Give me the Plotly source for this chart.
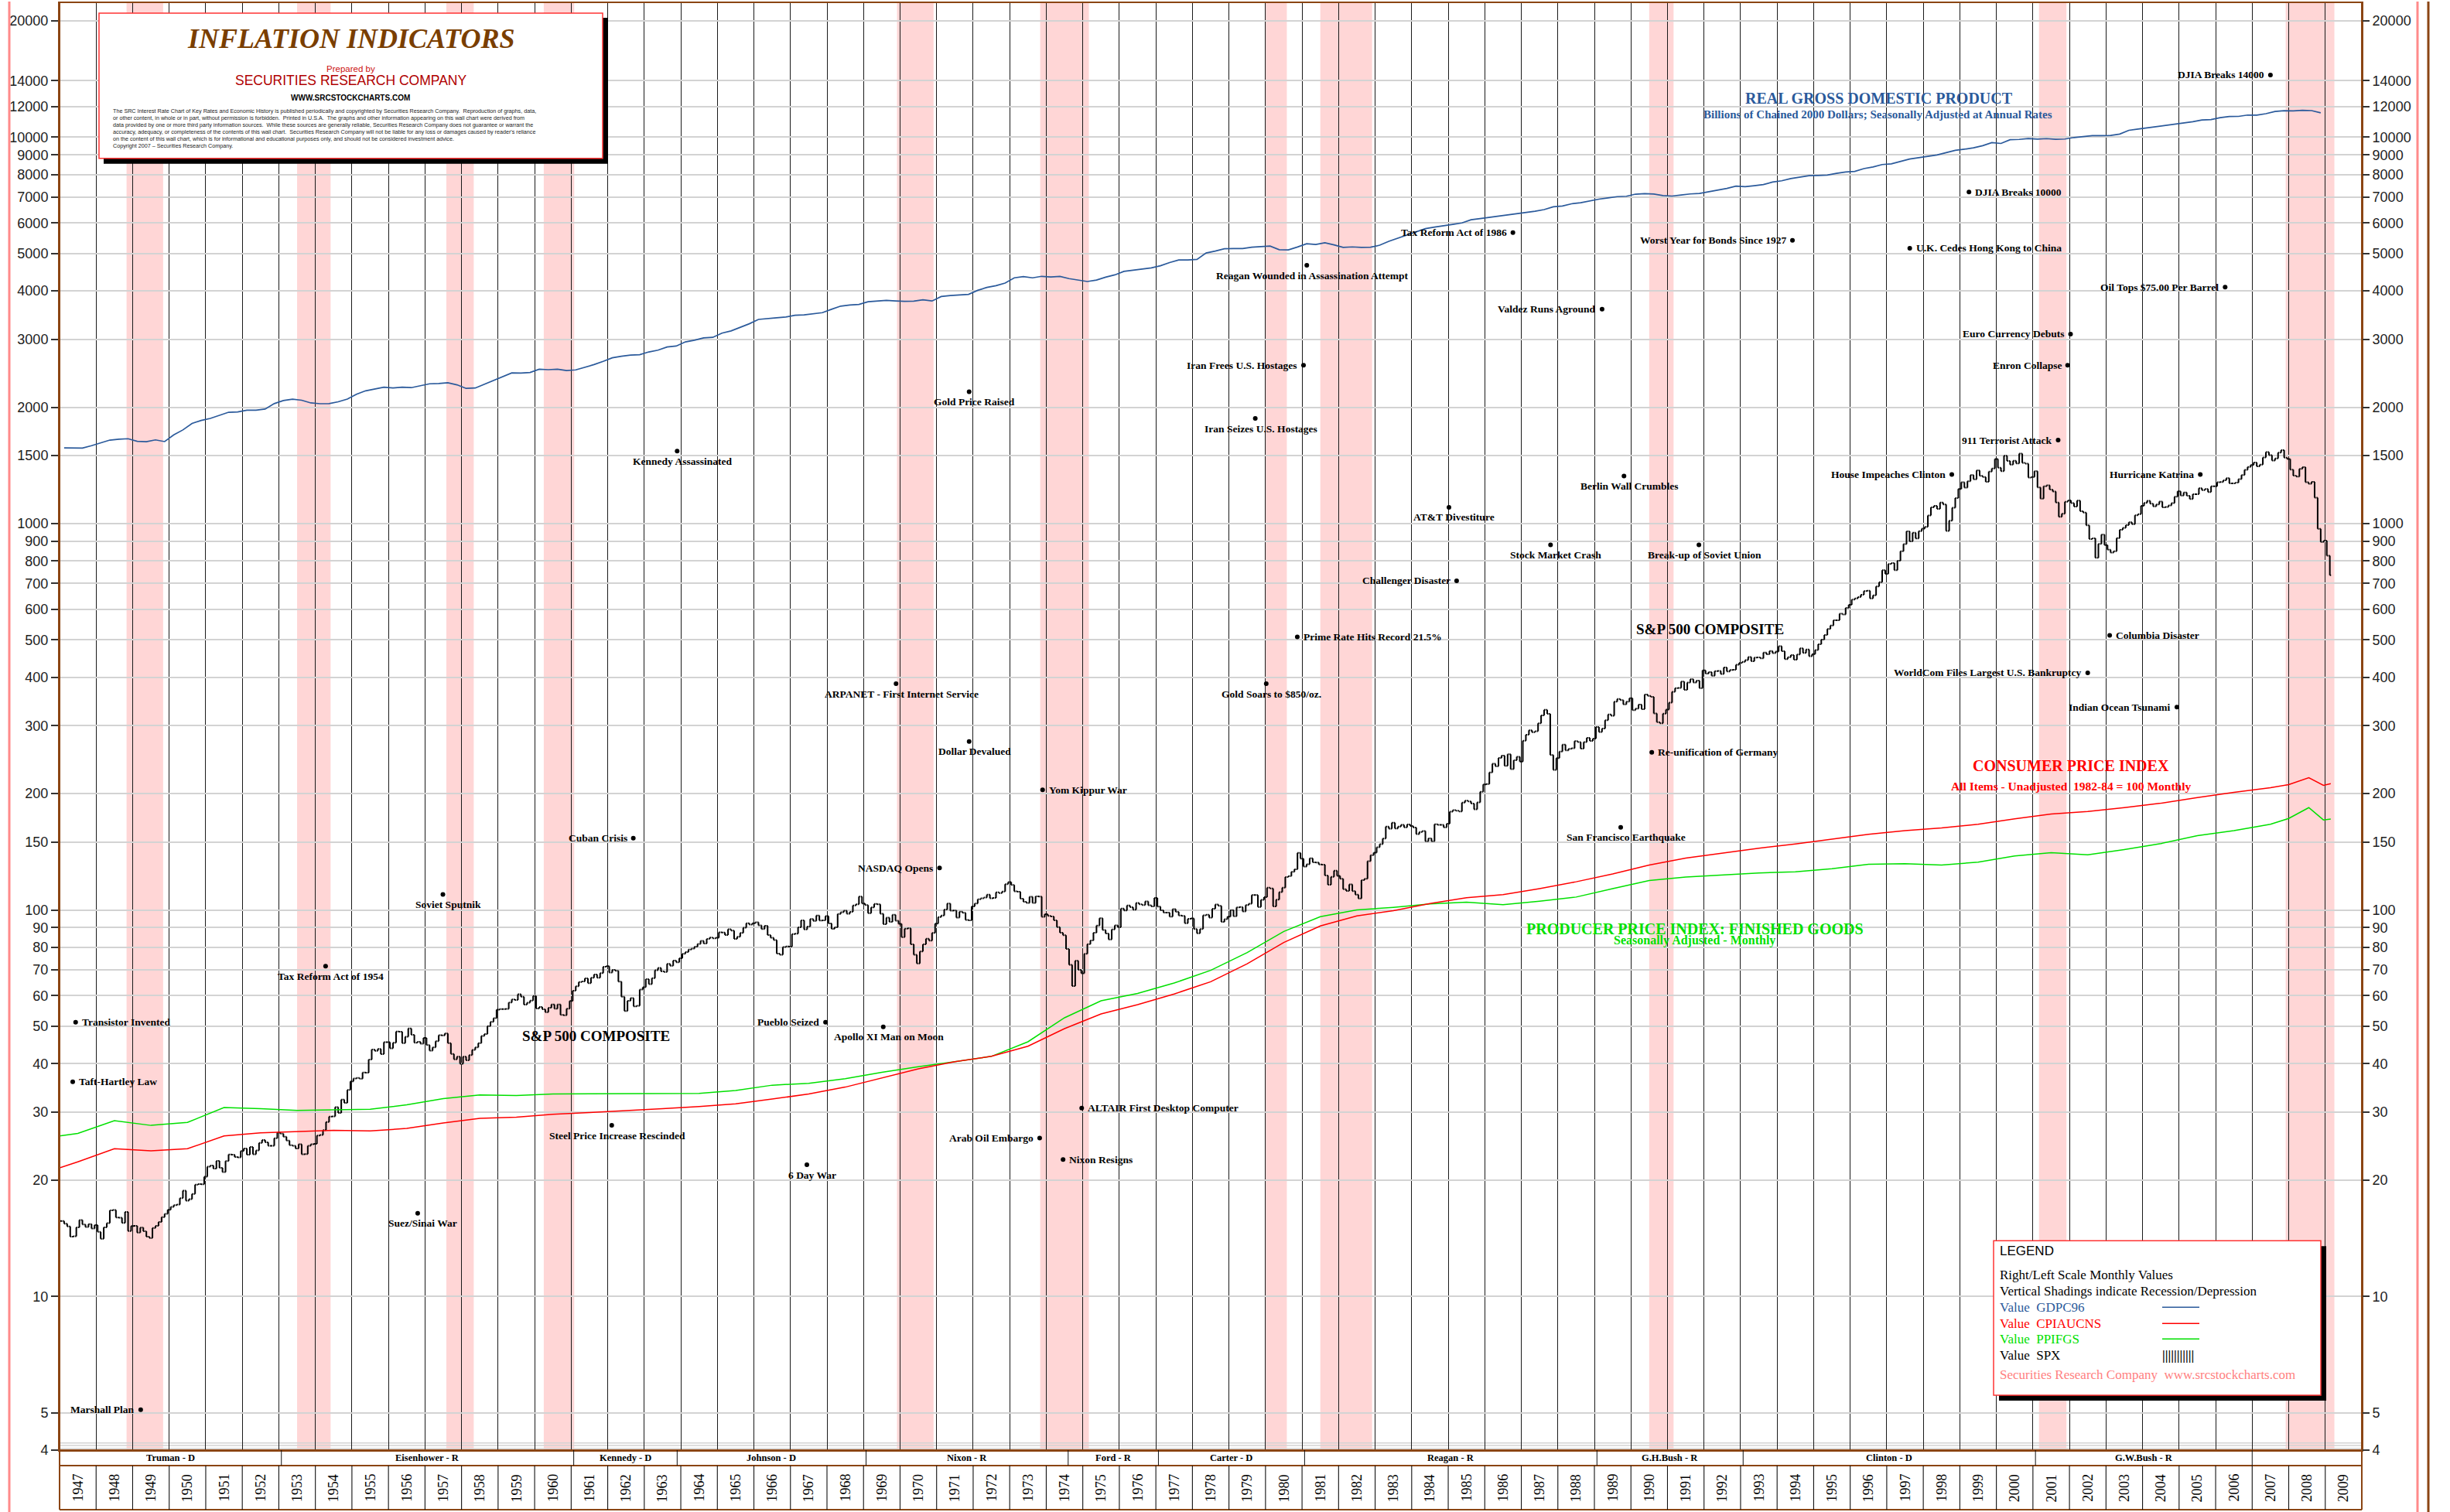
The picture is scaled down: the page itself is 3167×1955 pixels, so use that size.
import numpy as np
import plotly.graph_objects as go

# ------------------------------------------------------------------ DATA
START_YEAR = 1947
END_YEAR = 2010

# S&P 500 monthly closes, Jan 1947 .. Feb 2009
SPX_MONTHLY_CLOSE = [
    15.66, 15.41, 15.17, 14.28, 14.30, 15.08, 15.76, 15.35, 15.11, 15.38, 14.98, 15.30,   # 1947
    14.69, 14.10, 15.08, 15.48, 16.69, 16.74, 16.00, 15.97, 15.49, 16.54, 14.75, 15.20,   # 1948
    15.22, 14.62, 15.06, 14.74, 14.28, 14.16, 15.04, 15.22, 15.58, 16.04, 16.36, 16.76,   # 1949
    17.05, 17.22, 17.29, 17.96, 18.78, 17.69, 17.84, 18.42, 19.45, 19.53, 19.51, 20.41,   # 1950
    21.66, 21.80, 21.40, 22.43, 21.52, 20.96, 22.40, 23.28, 23.26, 22.94, 22.88, 23.77,   # 1951
    24.14, 23.26, 24.37, 23.32, 23.86, 24.96, 25.40, 25.03, 24.54, 24.52, 25.66, 26.57,   # 1952
    26.38, 25.90, 25.29, 24.62, 24.54, 24.14, 24.75, 23.32, 23.35, 24.54, 24.76, 24.81,   # 1953
    26.08, 26.15, 26.94, 28.26, 29.19, 29.21, 30.88, 29.83, 32.31, 31.68, 34.24, 35.98,   # 1954
    36.63, 36.76, 36.58, 37.96, 37.91, 41.03, 43.52, 43.18, 43.67, 42.34, 45.51, 45.48,   # 1955
    43.82, 45.34, 48.48, 48.38, 45.20, 46.97, 49.39, 47.51, 45.35, 45.58, 45.08, 46.67,   # 1956
    44.72, 43.26, 44.11, 45.74, 47.43, 47.37, 47.91, 45.22, 42.42, 41.06, 41.72, 39.99,   # 1957
    41.70, 40.84, 42.10, 43.44, 44.09, 45.24, 47.19, 47.75, 50.06, 51.33, 52.48, 55.21,   # 1958
    55.42, 55.41, 55.44, 57.59, 58.68, 58.47, 60.51, 59.60, 56.88, 57.52, 58.28, 59.89,   # 1959
    55.61, 56.12, 55.34, 54.37, 55.83, 56.92, 55.51, 56.96, 53.52, 53.39, 55.54, 58.11,   # 1960
    61.78, 63.44, 65.06, 65.31, 66.56, 64.64, 66.76, 68.07, 66.73, 68.62, 71.32, 71.55,   # 1961
    68.84, 69.96, 69.55, 65.24, 59.63, 54.75, 58.23, 59.12, 56.27, 56.52, 62.26, 63.10,   # 1962
    66.20, 64.29, 66.57, 69.80, 70.80, 69.37, 69.13, 72.50, 71.70, 74.01, 73.23, 75.02,   # 1963
    77.04, 77.80, 78.98, 79.46, 80.37, 81.69, 83.18, 81.83, 84.18, 84.86, 84.42, 84.75,   # 1964
    87.56, 87.43, 86.16, 89.11, 88.42, 84.12, 85.25, 87.17, 89.96, 92.42, 91.61, 92.43,   # 1965
    92.88, 91.22, 89.23, 91.06, 86.13, 84.74, 83.60, 77.10, 76.56, 80.20, 80.45, 80.33,   # 1966
    86.61, 86.78, 90.20, 94.01, 89.08, 90.64, 94.75, 93.64, 96.71, 93.90, 94.00, 96.47,   # 1967
    92.24, 89.36, 90.20, 97.59, 98.68, 99.58, 97.74, 98.86, 102.67, 103.41, 108.37, 103.86,  # 1968
    103.01, 98.13, 101.51, 103.69, 103.46, 97.71, 91.83, 95.51, 93.12, 97.24, 93.81, 92.06,  # 1969
    85.02, 89.50, 89.63, 81.52, 76.55, 72.72, 78.05, 81.52, 84.21, 83.25, 87.20, 92.15,   # 1970
    95.88, 96.75, 100.31, 103.95, 99.63, 99.70, 95.58, 99.03, 98.34, 94.23, 93.99, 102.09,  # 1971
    103.94, 106.57, 107.20, 107.67, 109.53, 107.14, 107.39, 111.09, 110.55, 111.58, 116.67, 118.05,  # 1972
    116.03, 111.68, 111.52, 106.97, 104.95, 104.26, 108.22, 104.25, 108.43, 108.29, 95.96, 97.55,  # 1973
    96.57, 96.22, 93.98, 90.31, 87.28, 86.00, 79.31, 72.15, 63.54, 73.90, 69.97, 68.56,   # 1974
    76.98, 81.59, 83.36, 87.30, 91.15, 95.19, 88.75, 86.88, 83.87, 89.04, 91.24, 90.19,   # 1975
    100.86, 99.71, 102.77, 101.64, 100.18, 104.28, 103.44, 102.91, 105.24, 102.90, 102.10, 107.46,  # 1976
    102.03, 99.82, 98.42, 98.44, 96.12, 100.48, 98.85, 96.77, 96.53, 92.34, 94.83, 95.10,  # 1977
    89.25, 87.04, 89.21, 96.83, 97.24, 95.53, 100.68, 103.29, 102.54, 93.15, 94.70, 96.11,  # 1978
    99.93, 96.28, 101.59, 101.76, 99.08, 102.91, 103.81, 109.32, 109.32, 101.82, 106.16, 107.94,  # 1979
    114.16, 113.66, 102.09, 106.29, 111.24, 114.24, 121.67, 122.38, 125.46, 127.47, 140.52, 135.76,  # 1980
    129.55, 131.27, 136.00, 132.81, 132.59, 131.21, 130.92, 122.79, 116.18, 121.89, 126.35, 122.55,  # 1981
    120.40, 113.11, 111.96, 116.44, 111.88, 109.61, 107.09, 119.51, 120.42, 133.71, 138.54, 140.64,  # 1982
    145.30, 148.06, 152.96, 164.42, 162.39, 168.11, 162.56, 164.40, 166.07, 163.55, 166.40, 164.93,  # 1983
    163.41, 157.06, 159.18, 160.05, 150.55, 153.18, 150.66, 166.68, 166.10, 166.09, 163.58, 167.24,  # 1984
    179.63, 181.18, 180.66, 179.83, 189.55, 191.85, 190.92, 188.63, 182.08, 189.82, 202.17, 211.28,  # 1985
    211.78, 226.92, 238.90, 235.52, 247.35, 250.84, 236.12, 252.93, 231.32, 243.98, 249.22, 242.17,  # 1986
    274.08, 284.20, 291.70, 288.36, 290.10, 304.00, 318.66, 329.80, 321.83, 251.79, 230.30, 247.08,  # 1987
    257.07, 267.82, 258.89, 261.33, 262.16, 273.50, 272.02, 261.52, 271.91, 278.97, 273.70, 277.72,  # 1988
    297.47, 288.86, 294.87, 309.64, 320.52, 317.98, 346.08, 351.45, 349.15, 340.36, 345.99, 353.40,  # 1989
    329.08, 331.89, 339.94, 330.80, 361.23, 358.02, 356.15, 322.56, 306.05, 304.00, 322.22, 330.22,  # 1990
    343.93, 367.07, 375.22, 375.34, 389.83, 371.16, 387.81, 395.43, 387.86, 392.46, 375.22, 417.09,  # 1991
    408.79, 412.70, 403.69, 414.95, 415.35, 408.14, 424.21, 414.03, 417.80, 418.68, 431.35, 435.71,  # 1992
    438.78, 443.38, 451.67, 440.19, 450.19, 450.53, 448.13, 463.56, 458.93, 467.83, 461.79, 466.45,  # 1993
    481.61, 467.14, 445.77, 450.91, 456.50, 444.27, 458.26, 475.49, 462.69, 472.35, 453.69, 459.27,  # 1994
    470.42, 487.39, 500.71, 514.71, 533.40, 544.75, 562.06, 561.88, 584.41, 581.50, 605.37, 615.93,  # 1995
    636.02, 640.43, 645.50, 654.17, 669.12, 670.63, 639.95, 651.99, 687.31, 705.27, 757.02, 740.74,  # 1996
    786.16, 790.82, 757.12, 801.34, 848.28, 885.14, 954.29, 899.47, 947.28, 914.62, 955.40, 970.43,  # 1997
    980.28, 1049.34, 1101.75, 1111.75, 1090.82, 1133.84, 1120.67, 957.28, 1017.01, 1098.67, 1163.63, 1229.23,  # 1998
    1279.64, 1238.33, 1286.37, 1335.18, 1301.84, 1372.71, 1328.72, 1320.41, 1282.71, 1362.93, 1388.91, 1469.25,  # 1999
    1394.46, 1366.42, 1498.58, 1452.43, 1420.60, 1454.60, 1430.83, 1517.68, 1436.51, 1429.40, 1314.95, 1320.28,  # 2000
    1366.01, 1239.94, 1160.33, 1249.46, 1255.82, 1224.42, 1211.23, 1133.58, 1040.94, 1059.78, 1139.45, 1148.08,  # 2001
    1130.20, 1106.73, 1147.39, 1076.92, 1067.14, 989.82, 911.62, 916.07, 815.28, 885.76, 936.31, 879.82,  # 2002
    855.70, 841.15, 848.18, 916.92, 963.59, 974.50, 990.31, 1008.01, 995.97, 1050.71, 1058.20, 1111.92,  # 2003
    1131.13, 1144.94, 1126.21, 1107.30, 1120.68, 1140.84, 1101.72, 1104.24, 1114.58, 1130.20, 1173.82, 1211.92,  # 2004
    1181.27, 1203.60, 1180.59, 1156.85, 1191.50, 1191.33, 1234.18, 1220.33, 1228.81, 1207.01, 1249.48, 1248.29,  # 2005
    1280.08, 1280.66, 1294.87, 1310.61, 1270.09, 1270.20, 1276.66, 1303.82, 1335.85, 1377.94, 1400.63, 1418.30,  # 2006
    1438.24, 1406.82, 1420.86, 1482.37, 1530.62, 1503.35, 1455.27, 1473.99, 1526.75, 1549.38, 1481.14, 1468.36,  # 2007
    1378.55, 1330.63, 1322.70, 1385.59, 1400.38, 1280.00, 1267.38, 1282.83, 1166.36, 968.75, 896.24, 903.25,  # 2008
    825.88, 735.09,  # 2009
]

# Real GDP (GDPC96), quarterly, 1947Q1 .. 2008Q4, billions of chained 2000 $
GDP_QUARTERLY = [
    1570.5, 1568.7, 1568.0, 1590.9,  # 1947
    1616.1, 1644.6, 1654.1, 1658.0,  # 1948
    1633.2, 1628.4, 1646.7, 1629.9,  # 1949
    1696.8, 1747.3, 1815.8, 1848.9,  # 1950
    1871.3, 1903.1, 1941.1, 1944.4,  # 1951
    1964.4, 1966.0, 1978.8, 2043.8,  # 1952
    2082.0, 2098.1, 2085.4, 2052.5,  # 1953
    2042.4, 2044.3, 2066.6, 2099.9,  # 1954
    2162, 2206, 2230, 2254,  # 1955
    2244, 2254, 2248, 2276,  # 1956
    2300, 2303, 2315, 2286,  # 1957
    2238, 2243, 2294, 2341,  # 1958
    2400, 2455, 2451, 2460,  # 1959
    2508, 2502, 2510, 2488,  # 1960
    2499, 2536, 2579, 2628,  # 1961
    2685, 2710, 2729, 2736,  # 1962
    2781, 2811, 2865, 2880,  # 1963
    2952, 2983, 3024, 3034,  # 1964
    3110, 3152, 3214, 3289,  # 1965
    3376, 3387, 3408, 3426,  # 1966
    3460, 3468, 3495, 3515,  # 1967
    3586, 3654, 3677, 3692,  # 1968
    3750, 3760, 3781, 3769,  # 1969
    3760, 3765, 3796, 3767,  # 1970
    3869, 3893, 3912, 3920,  # 1971
    4014, 4084, 4128, 4193,  # 1972
    4324, 4355, 4325, 4364,  # 1973
    4346, 4360, 4305, 4268,  # 1974
    4231, 4269, 4343, 4401,  # 1975
    4495, 4527, 4552, 4590,  # 1976
    4647, 4736, 4809, 4810,  # 1977
    4828, 5016, 5073, 5143,  # 1978
    5147, 5150, 5190, 5208,  # 1979
    5227, 5114, 5107, 5198,  # 1980
    5300, 5277, 5329, 5262,  # 1981
    5184, 5200, 5185, 5190,  # 1982
    5253, 5375, 5479, 5588,  # 1983
    5693, 5798, 5854, 5909,  # 1984
    5946, 5998, 6115, 6158,  # 1985
    6203, 6231, 6294, 6327,  # 1986
    6367, 6432, 6495, 6606,  # 1987
    6635, 6723, 6766, 6847,  # 1988
    6912, 6964, 7016, 7033,  # 1989
    7121, 7140, 7127, 7061,  # 1990
    7041, 7085, 7130, 7148,  # 1991
    7218, 7290, 7371, 7468,  # 1992
    7448, 7490, 7539, 7653,  # 1993
    7712, 7814, 7868, 7950,  # 1994
    7962, 7978, 8062, 8125,  # 1995
    8154, 8293, 8374, 8495,  # 1996
    8529, 8661, 8776, 8850,  # 1997
    8915, 8991, 9117, 9247,  # 1998
    9310, 9383, 9506, 9683,  # 1999
    9632, 9850, 9867, 9917,  # 2000
    9886, 9914, 9871, 9890,  # 2001
    9981, 10034, 10090, 10090,  # 2002
    10101, 10186, 10419, 10496,  # 2003
    10571, 10646, 10707, 10781,  # 2004
    10868, 10962, 11080, 11102,  # 2005
    11236, 11315, 11318, 11409,  # 2006
    11404, 11500, 11655, 11710,  # 2007
    11700, 11740, 11715, 11560,  # 2008
]

# Consumer Price Index (1982-84 = 100)
CPI_DATES = [1947.0] + [y + 0.5 for y in range(1947, 2008)] + [2008.0, 2008.55, 2008.95, 2009.15]
CPI_VALUES = [
    21.5,
    22.3, 24.1, 23.8, 24.1, 26.0, 26.5, 26.7, 26.9, 26.8, 27.2, 28.1, 28.9, 29.1, 29.6, 29.9,
    30.2, 30.6, 31.0, 31.5, 32.4, 33.4, 34.8, 36.7, 38.8, 40.5, 41.8, 44.4, 49.3, 53.8, 56.9,
    60.6, 65.2, 72.6, 82.4, 90.9, 96.5, 99.6, 103.9, 107.6, 109.6, 113.6, 118.3, 124.0, 130.7,
    136.2, 140.3, 144.5, 148.2, 152.4, 156.9, 160.5, 163.0, 166.6, 172.2, 177.1, 179.9, 184.0,
    188.9, 195.3, 201.6, 207.3,
    211.1, 220.0, 210.2, 212.2,
]

# Producer Price Index: finished goods (1982 = 100)
PPI_DATES = [1947.0] + [y + 0.5 for y in range(1947, 2008)] + [2008.0, 2008.55, 2008.95, 2009.15]
PPI_VALUES = [
    26.0,
    26.4, 28.5, 27.7, 28.2, 30.8, 30.6, 30.3, 30.4, 30.5, 31.3, 32.5, 33.2, 33.1, 33.4, 33.4,
    33.5, 33.4, 33.5, 34.1, 35.2, 35.6, 36.6, 38.0, 39.3, 40.5, 41.8, 45.6, 52.6, 58.2, 60.8,
    64.7, 69.8, 77.6, 88.0, 96.1, 100.0, 101.6, 103.7, 104.7, 103.2, 105.4, 108.0, 113.6, 119.2,
    121.7, 123.2, 124.7, 125.5, 127.9, 131.3, 131.8, 130.7, 133.0, 138.0, 140.7, 138.9, 143.3,
    148.5, 155.7, 160.4, 166.6,
    172.5, 184.0, 171.0, 172.0,
]

# Recessions (year, month) start / end
REC_START = [(1948, 11), (1953, 7), (1957, 8), (1960, 4), (1969, 12), (1973, 11),
             (1980, 1), (1981, 7), (1990, 7), (2001, 3), (2007, 12)]
REC_END = [(1949, 10), (1954, 5), (1958, 4), (1961, 1), (1970, 11), (1975, 2),
           (1980, 7), (1982, 11), (1991, 2), (2001, 11), (2009, 3)]

PRES_NAMES = ["Truman - D", "Eisenhower - R", "Kennedy - D", "Johnson - D", "Nixon - R",
              "Ford - R", "Carter - D", "Reagan - R", "G.H.Bush - R", "Clinton - D",
              "G.W.Bush - R", ""]
PRES_BOUNDS = [1947.0, 1953.07, 1961.07, 1963.9, 1969.07, 1974.6, 1977.07, 1981.07,
               1989.07, 1993.07, 2001.07, 2007.0, 2010.0]

Y_TICKS = [4, 5, 10, 20, 30, 40, 50, 60, 70, 80, 90, 100, 150, 200, 300, 400, 500, 600, 700,
           800, 900, 1000, 1500, 2000, 3000, 4000, 5000, 6000, 7000, 8000, 9000, 10000,
           12000, 14000, 20000]
Y_EXTRA_GRID = [11000, 13000, 15000]

# Events: label, date (year fraction), level on chart, label side
EVENT_LABELS = [
    "Marshall Plan", "Transistor Invented", "Taft-Hartley Law", "Tax Reform Act of 1954",
    "Suez/Sinai War", "Soviet Sputnik", "Steel Price Increase Rescinded", "Kennedy Assassinated",
    "Cuban Crisis", "6 Day War", "Pueblo Seized", "Apollo XI Man on Moon",
    "ARPANET - First Internet Service", "NASDAQ Opens", "Gold Price Raised", "Dollar Devalued",
    "Yom Kippur War", "Arab Oil Embargo", "Nixon Resigns", "ALTAIR First Desktop Computer",
    "Gold Soars to $850/oz.", "Iran Seizes U.S. Hostages", "Iran Frees U.S. Hostages",
    "Reagan Wounded in Assassination Attempt", "Prime Rate Hits Record 21.5%",
    "Challenger Disaster", "AT&T Divestiture", "Tax Reform Act of 1986", "Stock Market Crash",
    "Valdez Runs Aground", "Berlin Wall Crumbles", "San Francisco Earthquake",
    "Re-unification of Germany", "Break-up of Soviet Union", "Worst Year for Bonds Since 1927",
    "U.K. Cedes Hong Kong to China", "DJIA Breaks 10000", "House Impeaches Clinton",
    "WorldCom Files Largest U.S. Bankruptcy", "911 Terrorist Attack", "Enron Collapse",
    "Euro Currency Debuts", "Columbia Disaster", "Indian Ocean Tsunami", "Hurricane Katrina",
    "Oil Tops $75.00 Per Barrel", "DJIA Breaks 14000",
]
EVENT_DATES = [
    1949.22, 1947.44, 1947.36, 1954.28, 1956.80, 1957.49, 1962.11, 1963.90, 1962.70, 1967.45,
    1967.96, 1969.54, 1969.89, 1971.08, 1971.89, 1971.89, 1973.90, 1973.82, 1974.46, 1974.97,
    1980.02, 1979.72, 1981.04, 1981.13, 1980.87, 1985.23, 1985.02, 1986.77, 1987.80, 1989.21,
    1989.81, 1989.72, 1990.57, 1991.86, 1994.42, 1997.63, 1999.25, 1998.78, 2002.50, 2001.69,
    2001.95, 2002.03, 2003.10, 2004.94, 2005.58, 2006.26, 2007.50,
]
EVENT_LEVELS = [
    5.09, 51.2, 35.9, 71.5, 16.4, 109.7, 27.7, 1540, 153.4, 21.9,
    51.2, 49.8, 385, 128.5, 2193, 273, 204.6, 25.7, 22.6, 30.7,
    385, 1871, 2570, 4660, 509, 711, 1102, 5662, 881, 3590,
    1327, 163.7, 255.7, 881, 5408, 5161, 7211, 1340, 411, 1644,
    2570, 3093, 514, 335, 1340, 4090, 14490,
]
EVENT_SIDES = [
    "L", "R", "R", "B", "B", "B", "B", "B", "L", "B",
    "L", "B", "B", "L", "B", "B", "R", "L", "R", "R",
    "B", "B", "L", "B", "R", "L", "B", "L", "B", "L",
    "B", "B", "R", "B", "L", "R", "R", "L", "L", "L",
    "L", "L", "R", "L", "L", "L", "L",
]

# ------------------------------------------------------------------ LAYOUT HELPERS
W, H = 3167, 1955
ML, MR, MT, MB = 77, 114, 2, 80
PW, PH = W - ML - MR, H - MT - MB


def px(xpix):
    return (xpix - ML) / PW


def py(ypix):
    return (H - MB - ypix) / PH


SERIF = "Liberation Serif, Times New Roman, serif"
SANS = "Liberation Sans, Arial, sans-serif"
BROWN = "#8B4513"
GDP_COLOR = "#2B5A9B"
CPI_COLOR = "#FF0000"
PPI_COLOR = "#00E000"

# ------------------------------------------------------------------ TRACES
n = len(SPX_MONTHLY_CLOSE)
spx_x = [START_YEAR + (i + 0.5) / 12 for i in range(n)]
spx_close = SPX_MONTHLY_CLOSE
spx_open = [spx_close[0]] + spx_close[:-1]
spx_high = [max(o, c) for o, c in zip(spx_open, spx_close)]
spx_low = [min(o, c) for o, c in zip(spx_open, spx_close)]

gdp_x = [START_YEAR + (i * 3 + 1.5) / 12 for i in range(len(GDP_QUARTERLY))]

fig = go.Figure()

fig.add_trace(go.Scatter(x=gdp_x, y=GDP_QUARTERLY, mode="lines",
                         line=dict(color=GDP_COLOR, width=1.7), hoverinfo="skip"))
fig.add_trace(go.Scatter(x=PPI_DATES, y=PPI_VALUES, mode="lines",
                         line=dict(color=PPI_COLOR, width=1.5), hoverinfo="skip"))
fig.add_trace(go.Scatter(x=CPI_DATES, y=CPI_VALUES, mode="lines",
                         line=dict(color=CPI_COLOR, width=1.5), hoverinfo="skip"))
fig.add_trace(go.Ohlc(x=spx_x, open=spx_open, high=spx_high, low=spx_low, close=spx_close,
                      increasing=dict(line=dict(color="#000000", width=2)),
                      decreasing=dict(line=dict(color="#000000", width=2)),
                      tickwidth=0.4, hoverinfo="skip"))
fig.add_trace(go.Scatter(x=EVENT_DATES, y=EVENT_LEVELS, mode="markers",
                         marker=dict(color="black", size=6), hoverinfo="skip"))
# invisible trace to activate right axis
fig.add_trace(go.Scatter(x=[START_YEAR], y=[100], yaxis="y2", mode="markers",
                         marker=dict(opacity=0), hoverinfo="skip"))

# ------------------------------------------------------------------ SHAPES
shapes = []
for (sy, sm), (ey, em) in zip(REC_START, REC_END):
    shapes.append(dict(type="rect", xref="x", yref="paper",
                       x0=sy + (sm - 1) / 12, x1=ey + em / 12, y0=0, y1=1,
                       fillcolor="#FFD6D6", line=dict(width=0), layer="below"))
for v in Y_EXTRA_GRID:
    shapes.append(dict(type="line", xref="paper", yref="y", x0=0, x1=1,
                       y0=np.log10(v), y1=np.log10(v),
                       line=dict(color="#D3D3D3", width=1.5), layer="below"))

# bottom bands
y_band_top = 0
y_pres_bot = py(1895)
y_year_bot = py(1952)
for yy in [y_band_top, y_pres_bot, y_year_bot]:
    shapes.append(dict(type="line", xref="paper", yref="paper", x0=0, x1=1, y0=yy, y1=yy,
                       line=dict(color=BROWN, width=2)))
for xx in [0, 1]:
    shapes.append(dict(type="line", xref="paper", yref="paper", x0=xx, x1=xx,
                       y0=y_year_bot, y1=1, line=dict(color=BROWN, width=2)))
for b in PRES_BOUNDS[1:-1]:
    shapes.append(dict(type="line", xref="x", yref="paper", x0=b, x1=b,
                       y0=y_pres_bot, y1=0, line=dict(color="#111111", width=1)))
for yr in range(START_YEAR + 1, END_YEAR):
    shapes.append(dict(type="line", xref="x", yref="paper", x0=yr, x1=yr,
                       y0=y_year_bot, y1=y_pres_bot, line=dict(color="#111111", width=1.1)))

# outer decorative lines
shapes.append(dict(type="line", xref="paper", yref="paper", x0=px(12), x1=px(12),
                   y0=py(H), y1=py(0), line=dict(color="#FF8A8A", width=3)))
shapes.append(dict(type="line", xref="paper", yref="paper", x0=px(3125), x1=px(3125),
                   y0=py(H), y1=py(0), line=dict(color="#FF8A8A", width=3)))
shapes.append(dict(type="line", xref="paper", yref="paper", x0=px(3139), x1=px(3139),
                   y0=py(H), y1=py(0), line=dict(color=BROWN, width=3)))

# title box with shadow
shapes.append(dict(type="rect", xref="paper", yref="paper", x0=px(134), x1=px(786),
                   y0=py(210), y1=py(21), fillcolor="black", line=dict(width=0)))
shapes.append(dict(type="rect", xref="paper", yref="paper", x0=px(128), x1=px(779),
                   y0=py(203), y1=py(15), fillcolor="white",
                   line=dict(color="#FF3333", width=1.5)))
# legend box with shadow
shapes.append(dict(type="rect", xref="paper", yref="paper", x0=px(2584), x1=px(3007),
                   y0=py(1811), y1=py(1611), fillcolor="black", line=dict(width=0)))
shapes.append(dict(type="rect", xref="paper", yref="paper", x0=px(2577), x1=px(3000),
                   y0=py(1804), y1=py(1604), fillcolor="white",
                   line=dict(color="#FF3333", width=1.5)))
legend_rows = [(1690, GDP_COLOR), (1711, CPI_COLOR), (1731, PPI_COLOR)]
for yp, col in legend_rows:
    shapes.append(dict(type="line", xref="paper", yref="paper", x0=px(2795), x1=px(2843),
                       y0=py(yp), y1=py(yp), line=dict(color=col, width=1.5)))

# ------------------------------------------------------------------ ANNOTATIONS
ann = []


def text(x, y, s, size, color="black", family=SERIF, xanchor="center", yanchor="middle",
         xref="paper", yref="paper", angle=0, xshift=0, yshift=0, align="center"):
    ann.append(dict(x=x, y=y, text=s, xref=xref, yref=yref, showarrow=False,
                    xanchor=xanchor, yanchor=yanchor, textangle=angle, align=align,
                    xshift=xshift, yshift=yshift, borderpad=0,
                    font=dict(family=family, size=size, color=color)))


# events
for lab, d, lv, side in zip(EVENT_LABELS, EVENT_DATES, EVENT_LEVELS, EVENT_SIDES):
    ly = np.log10(lv)
    if side == "L":
        text(d, ly, "<b>%s</b>" % lab, 13.5, xanchor="right", xref="x", yref="y", xshift=-7)
    elif side == "R":
        text(d, ly, "<b>%s</b>" % lab, 13.5, xanchor="left", xref="x", yref="y", xshift=7)
    else:
        text(d, ly, "<b>%s</b>" % lab, 13.5, xanchor="center", xref="x", yref="y",
             xshift=7, yshift=-13)

# series labels (placed at data coordinates)
text(1996.78, 4.101, "<b>REAL GROSS DOMESTIC PRODUCT</b>", 20, GDP_COLOR, xref="x", yref="y")
text(1996.76, 4.059, "<b>Billions of Chained 2000 Dollars; Seasonally Adjusted at Annual Rates</b>",
     15, GDP_COLOR, xref="x", yref="y")
text(2002.05, 2.373, "<b>CONSUMER PRICE INDEX</b>", 20, CPI_COLOR, xref="x", yref="y")
text(2002.03, 2.321, "<b>All Items - Unadjusted  1982-84 = 100 Monthly</b>", 15.5, CPI_COLOR,
     xref="x", yref="y")
text(1991.76, 1.951, "<b>PRODUCER PRICE INDEX: FINISHED GOODS</b>", 20, PPI_COLOR,
     xref="x", yref="y")
text(1991.74, 1.921, "<b>Seasonally Adjusted - Monthly</b>", 16, PPI_COLOR, xref="x", yref="y")
text(1961.69, 1.673, "<b>S&P 500 COMPOSITE</b>", 19, xref="x", yref="y")
text(1992.16, 2.727, "<b>S&P 500 COMPOSITE</b>", 19, xref="x", yref="y")

# bottom bands
for i, name in enumerate(PRES_NAMES):
    if name:
        text((PRES_BOUNDS[i] + PRES_BOUNDS[i + 1]) / 2, py(1885), "<b>%s</b>" % name, 12.5,
             xref="x")
for yr in range(START_YEAR, END_YEAR):
    text(yr + 0.5, py(1924), str(yr), 18, xref="x", angle=-90)

# title box
text(px(453), py(48), "<b><i>INFLATION INDICATORS</i></b>", 36, "#7A3E00")
text(px(453), py(87), "Prepared by", 11.5, "#CC1111", family=SANS)
text(px(453), py(102), "SECURITIES RESEARCH COMPANY", 17.5, "#B00000", family=SANS)
text(px(453), py(125), "<b>WWW.SRCSTOCKCHARTS.COM</b>", 10, family=SANS)
DISCLAIMER = [
    "The SRC Interest Rate Chart of Key Rates and Economic History is published periodically and copyrighted by Securities Research Company.  Reproduction of graphs, data,",
    "or other content, in whole or in part, without permission is forbidden.  Printed in U.S.A.  The graphs and other information appearing on this wall chart were derived from",
    "data provided by one or more third party information sources.  While these sources are generally reliable, Securities Research Company does not guarantee or warrant the",
    "accuracy, adequacy, or completeness of the contents of this wall chart.  Securities Research Company will not be liable for any loss or damages caused by reader's reliance",
    "on the content of this wall chart, which is for informational and educational purposes only, and should not be considered investment advice.",
    "Copyright 2007 \u2013 Securities Research Company.",
]
for i, line in enumerate(DISCLAIMER):
    text(px(145), py(142 + 9 * i), line, 7.2, "#222222", family=SANS, xanchor="left")

# legend
text(px(2584), py(1617), "LEGEND", 17, family=SANS, xanchor="left")
text(px(2584), py(1648), "Right/Left Scale Monthly Values", 17, xanchor="left")
text(px(2584), py(1669), "Vertical Shadings indicate Recession/Depression", 17, xanchor="left")
text(px(2584), py(1690), "Value  GDPC96", 17, GDP_COLOR, xanchor="left")
text(px(2584), py(1711), "Value  CPIAUCNS", 17, CPI_COLOR, xanchor="left")
text(px(2584), py(1731), "Value  PPIFGS", 17, PPI_COLOR, xanchor="left")
text(px(2584), py(1752), "Value  SPX", 17, xanchor="left")
text(px(2794), py(1752), "<b>|||||||||||</b>", 17, xanchor="left")
text(px(2584), py(1777), "Securities Research Company  www.srcstockcharts.com", 17, "#FF8080",
     xanchor="left")

# ------------------------------------------------------------------ LAYOUT
yrange = [np.log10(4), 4.347]
tick_text = [str(v) for v in Y_TICKS]
yaxis_common = dict(type="log", range=yrange, tickvals=Y_TICKS, ticktext=tick_text,
                    ticks="outside", ticklen=9, tickwidth=1.5, tickcolor="#333333",
                    tickfont=dict(family=SANS, size=18, color="#222222"))

fig.update_layout(
    width=W, height=H, autosize=False,
    margin=dict(l=ML, r=MR, t=MT, b=MB, pad=0),
    paper_bgcolor="white", plot_bgcolor="white",
    showlegend=False,
    xaxis=dict(range=[START_YEAR, END_YEAR], tick0=START_YEAR, dtick=1,
               showgrid=True, gridcolor="#1A1A1A", gridwidth=1.2,
               showticklabels=False, ticks="", zeroline=False,
               showline=True, linecolor=BROWN, linewidth=2, mirror=True,
               rangeslider=dict(visible=False)),
    yaxis=dict(**yaxis_common, showgrid=True, gridcolor="#D3D3D3", gridwidth=1.5,
               showline=True, linecolor=BROWN, linewidth=2, mirror=True, zeroline=False,
               side="left"),
    yaxis2=dict(**yaxis_common, overlaying="y", side="right", showgrid=False,
                showline=False, zeroline=False),
    shapes=shapes,
    annotations=ann,
)

fig.write_html("out.html", config={"displayModeBar": False},
               post_script="document.body.style.margin='0';document.body.style.overflow='hidden';")
